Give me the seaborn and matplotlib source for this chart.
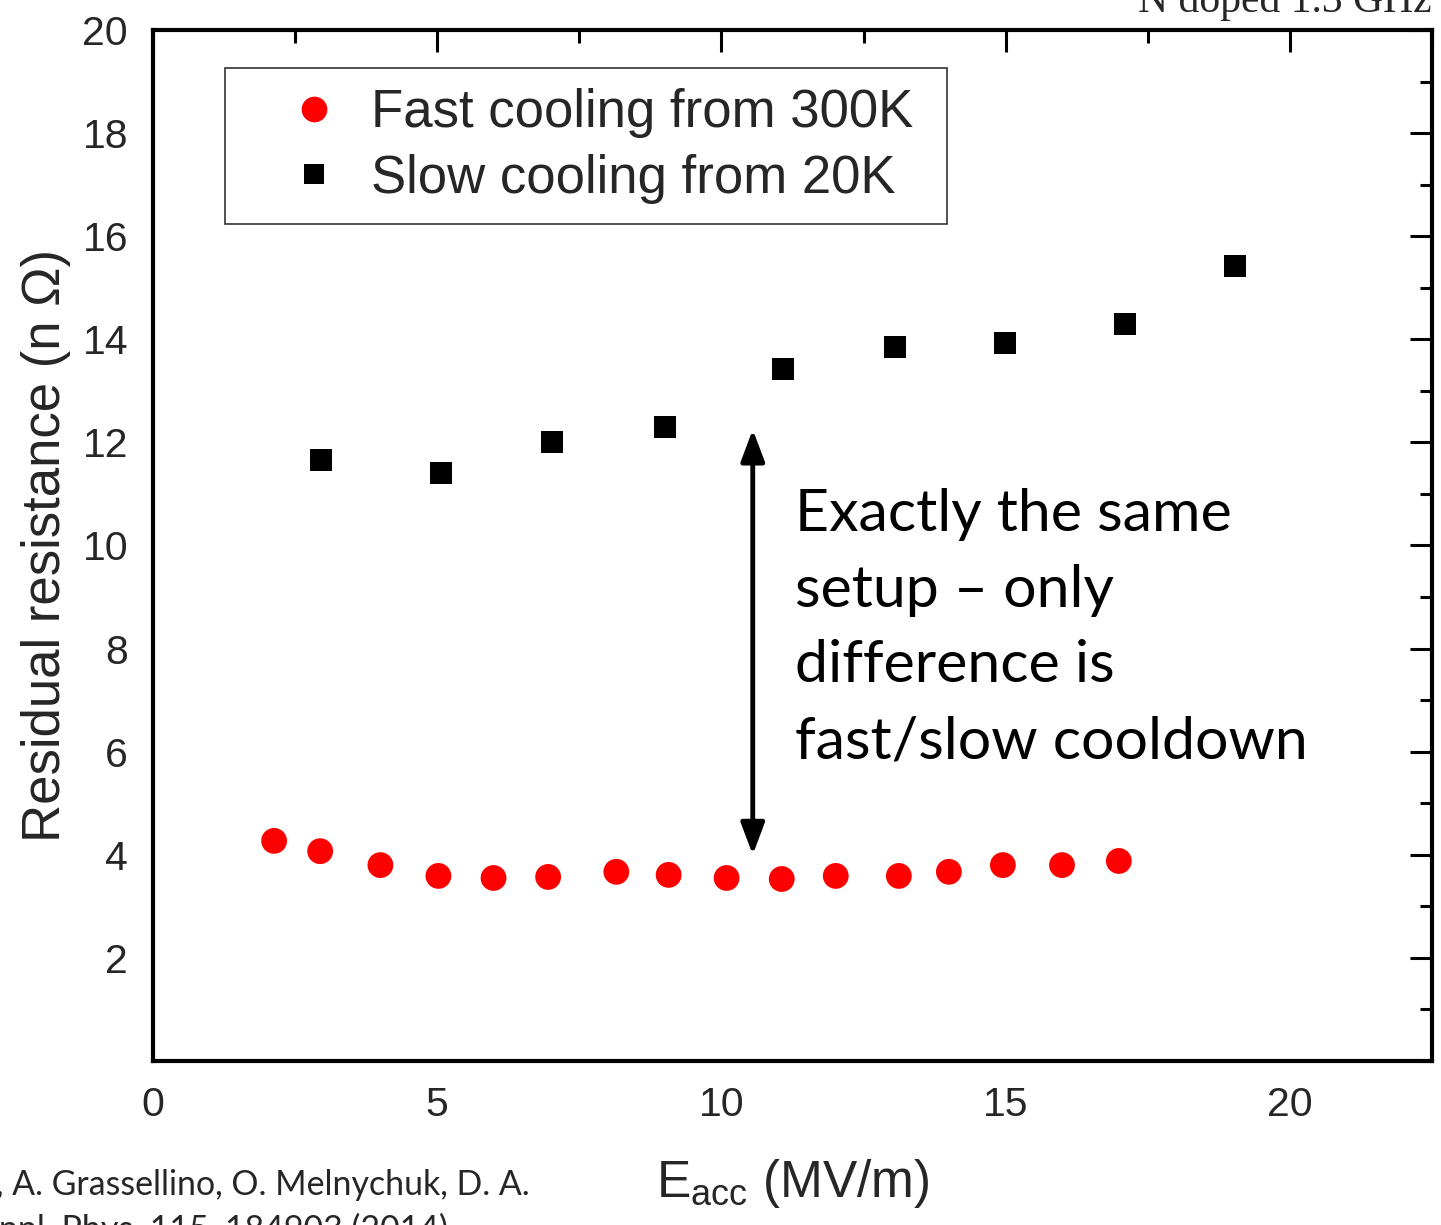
import matplotlib
matplotlib.use("Agg")
import matplotlib.pyplot as plt
from matplotlib.lines import Line2D
from matplotlib.ticker import MultipleLocator
import seaborn as sns
import pandas as pd

# Residual resistance vs accelerating field, N-doped 1.3 GHz cavity
fast_eacc = [2.13, 2.94, 4.0, 5.02, 5.99, 6.95, 8.15, 9.07, 10.09, 11.06, 12.01, 13.12, 14.0, 14.95, 15.99, 16.99]
fast_rres = [4.27, 4.07, 3.80, 3.59, 3.55, 3.57, 3.67, 3.61, 3.55, 3.53, 3.59, 3.59, 3.67, 3.80, 3.80, 3.88]

slow_eacc = [2.96, 5.07, 7.01, 9.01, 11.09, 13.05, 14.98, 17.10, 19.03]
slow_rres = [11.66, 11.41, 12.01, 12.30, 13.42, 13.85, 13.93, 14.30, 15.42]

fast_label = "Fast cooling from 300K"
slow_label = "Slow cooling from 20K"

sns.set_theme(style="white")
plt.rcParams["font.family"] = ["Liberation Sans", "DejaVu Sans"]
plt.rcParams["mathtext.fontset"] = "custom"
plt.rcParams["mathtext.rm"] = "Liberation Sans"

fig = plt.figure(figsize=(14.41, 12.25), dpi=100)
ax = fig.add_axes([0.1062, 0.1339, 0.8876, 0.8416])

fast_df = pd.DataFrame({"Eacc": fast_eacc, "R": fast_rres})
slow_df = pd.DataFrame({"Eacc": slow_eacc, "R": slow_rres})

sns.scatterplot(data=fast_df, x="Eacc", y="R", ax=ax, marker="o", s=345,
                color="#ff0000", edgecolor="none", linewidth=0, zorder=3)
sns.scatterplot(data=slow_df, x="Eacc", y="R", ax=ax, marker="s", s=250,
                color="black", edgecolor="none", linewidth=0, zorder=3)

ax.set_xlim(0, 22.5)
ax.set_ylim(0, 20)
ax.xaxis.set_major_locator(MultipleLocator(5))
ax.xaxis.set_minor_locator(MultipleLocator(2.5))
ax.yaxis.set_major_locator(MultipleLocator(2))
ax.yaxis.set_minor_locator(MultipleLocator(1))
ax.set_yticks([2, 4, 6, 8, 10, 12, 14, 16, 18, 20])
ax.set_xticks([0, 5, 10, 15, 20])

ax.tick_params(which="both", direction="in", top=True, right=True,
               color="black", width=2.2)
ax.tick_params(which="major", length=16, labelsize=29.5)
ax.tick_params(axis="y", which="major", pad=18)
ax.tick_params(axis="x", which="major", pad=18)
ax.tick_params(which="minor", length=9)
for sp in ax.spines.values():
    sp.set_visible(True)
    sp.set_color("black")
    sp.set_linewidth(3)
ax.grid(False)

ax.set_xlabel(r"$\mathregular{E_{acc}}$ (MV/m)", fontsize=37, labelpad=24)
ax.set_ylabel("Residual resistance (n \u03a9)", fontsize=38, labelpad=8)

handles = [
    Line2D([], [], marker="o", linestyle="none", color="#ff0000", markersize=18.5, markeredgewidth=0),
    Line2D([], [], marker="s", linestyle="none", color="black", markersize=15, markeredgewidth=0),
]
leg = ax.legend(handles, [fast_label, slow_label], loc="upper left",
                bbox_to_anchor=(0.0563, 0.5, 0.5645, 0.463), mode="expand",
                fontsize=38, frameon=True,
                fancybox=False, edgecolor="black", borderpad=0.38,
                labelspacing=0.29, handlelength=2.6, handletextpad=-0.22,
                borderaxespad=0)
leg.get_frame().set_linewidth(1.2)

# Double-headed arrow between the two cooldowns
ax.annotate("", xy=(10.55, 4.0), xytext=(10.55, 12.25),
            arrowprops=dict(arrowstyle="<|-|>,head_length=1.6,head_width=0.6",
                            color="black", lw=3.5, shrinkA=0, shrinkB=0))
ax.text(11.3, 11.12, "Exactly the same\nsetup \u2013 only\ndifference is\nfast/slow cooldown",
        fontsize=42.5, family=["Lato", "DejaVu Sans"], va="top", ha="left",
        linespacing=1.53, color="black")

fig.text(1432 / 1441, 1 - 12 / 1225, "N doped 1.3 GHz", ha="right", va="baseline",
         fontsize=30, family=["Liberation Serif", "DejaVu Serif"])
fig.text(530 / 1441, 1 - 1195 / 1225, "A. Romanenko, A. Grassellino, O. Melnychuk, D. A.",
         ha="right", va="baseline", fontsize=24.4, family=["Lato", "DejaVu Sans"])
fig.text(448 / 1441, 1 - 1240 / 1225, "Sergatskov, J. Appl. Phys. 115, 184903 (2014)",
         ha="right", va="baseline", fontsize=24.4, family=["Lato", "DejaVu Sans"])

fig.savefig("out.png", dpi=100)
